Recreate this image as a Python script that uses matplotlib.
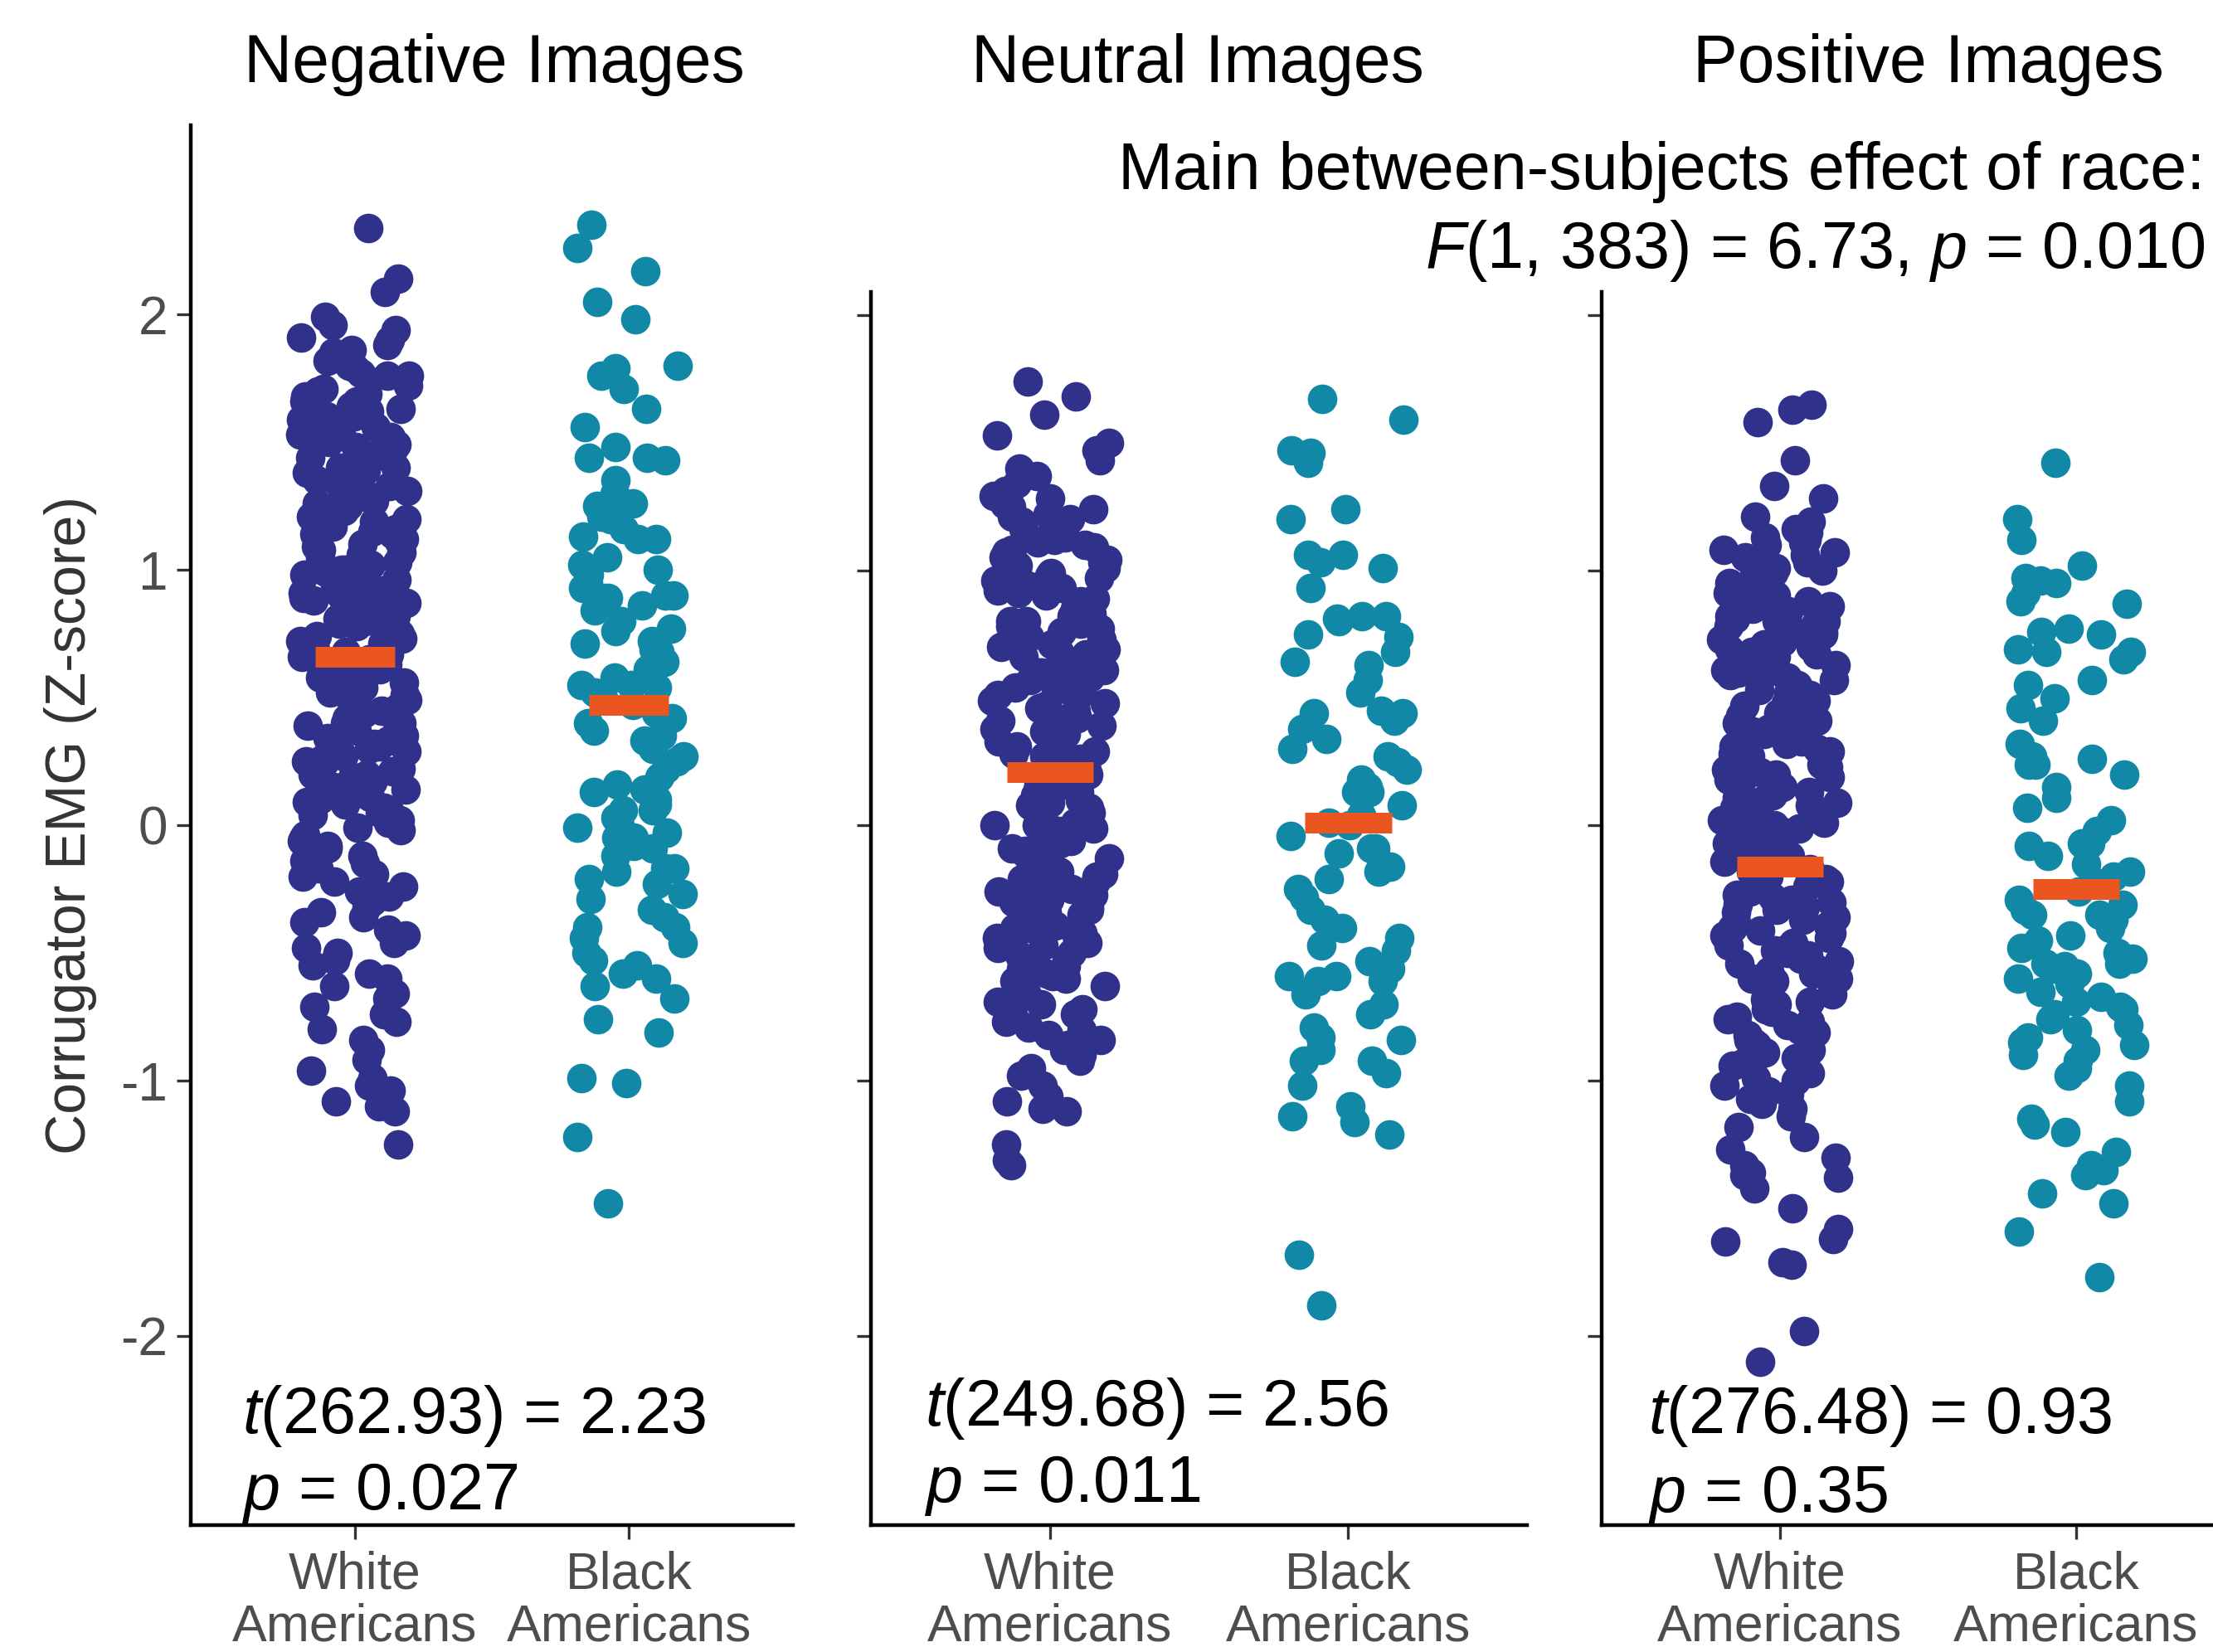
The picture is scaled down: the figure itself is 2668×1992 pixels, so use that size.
import numpy as np
import matplotlib.pyplot as plt

plt.rcParams['font.family'] = ['Liberation Sans', 'DejaVu Sans']
plt.rcParams['mathtext.fontset'] = 'custom'
plt.rcParams['mathtext.rm'] = 'Liberation Sans'
plt.rcParams['mathtext.it'] = 'Liberation Sans:italic'
plt.rcParams['axes.unicode_minus'] = False

# --- data ---
groups = ['White\nAmericans', 'Black\nAmericans']
panel_titles = ['Negative Images', 'Neutral Images', 'Positive Images']

neg_white = [
    2.34, 2.14, 2.09, 1.99, 1.96, 1.94, 1.91, 1.90, 1.88, 1.86, 1.85, 1.83,
    1.82, 1.80, 1.79, 1.77, 1.76, 1.76, 1.74, 1.72, 1.71, 1.70,
    1.69, 1.68, 1.66, 1.66, 1.64, 1.63, 1.62, 1.61, 1.60, 1.60,
    1.59, 1.57, 1.56, 1.56, 1.54, 1.53, 1.52, 1.51, 1.50,
    1.49, 1.48, 1.47, 1.45, 1.45, 1.44, 1.42, 1.41, 1.40, 1.40,
    1.39, 1.38, 1.36, 1.35, 1.35, 1.33, 1.32, 1.31, 1.30,
    1.29, 1.28, 1.27, 1.26, 1.25, 1.24, 1.23, 1.21, 1.20, 1.20,
    1.19, 1.17, 1.16, 1.15, 1.14, 1.14, 1.12, 1.11, 1.10,
    1.09, 1.08, 1.07, 1.06, 1.05, 1.03, 1.02, 1.01, 1.00, 1.00,
    0.99, 0.98, 0.96, 0.95, 0.94, 0.93, 0.92, 0.91, 0.90,
    0.89, 0.88, 0.87, 0.86, 0.85, 0.84, 0.82, 0.81, 0.80, 0.80,
    0.79, 0.78, 0.77, 0.75, 0.74, 0.73, 0.72, 0.71, 0.70,
    0.69, 0.68, 0.67, 0.66, 0.65, 0.63, 0.62, 0.61, 0.60, 0.60,
    0.59, 0.58, 0.57, 0.56, 0.54, 0.53, 0.52, 0.51, 0.50,
    0.49, 0.48, 0.47, 0.46, 0.45, 0.44, 0.42, 0.41, 0.40, 0.40,
    0.39, 0.38, 0.37, 0.35, 0.34, 0.33, 0.32, 0.31, 0.30,
    0.29, 0.28, 0.27, 0.26, 0.25, 0.24, 0.22, 0.21, 0.20, 0.20,
    0.19, 0.18, 0.17, 0.15, 0.14, 0.13, 0.12, 0.11, 0.10,
    0.09, 0.08, 0.07, 0.06, 0.05, 0.04, 0.02, 0.01, 0.00,
    -0.01, -0.02, -0.04, -0.05, -0.06, -0.08, -0.09, -0.10,
    -0.12, -0.14, -0.15, -0.17, -0.19, -0.20, -0.22, -0.24, -0.26, -0.28,
    -0.30, -0.32, -0.34, -0.36, -0.38, -0.41, -0.43, -0.46, -0.48, -0.50,
    -0.53, -0.55, -0.58, -0.60, -0.63, -0.66, -0.68, -0.71, -0.74, -0.77,
    -0.80, -0.84, -0.88, -0.92, -0.96, -0.99, -1.02, -1.04, -1.06, -1.08,
    -1.10, -1.12, -1.25]

neg_black = [
    2.35, 2.26, 2.17, 2.05, 1.98, 1.80, 1.79, 1.76, 1.71, 1.63, 1.56, 1.48,
    1.44, 1.44, 1.43, 1.35, 1.30, 1.26, 1.25, 1.21, 1.20, 1.16, 1.13, 1.12,
    1.12, 1.05, 1.02, 1.00, 0.99, 0.98, 0.95, 0.93, 0.90, 0.89, 0.89, 0.90,
    0.86, 0.84, 0.80, 0.77, 0.76, 0.72, 0.71, 0.69, 0.68, 0.64, 0.61, 0.58,
    0.55, 0.55, 0.54, 0.52, 0.50, 0.47, 0.44, 0.42, 0.40, 0.37, 0.35, 0.33,
    0.30, 0.27, 0.25, 0.22, 0.19, 0.16, 0.14, 0.13, 0.10, 0.08, 0.06, 0.06,
    0.03, 0.00, -0.01, -0.03, -0.05, -0.05, -0.08, -0.09, -0.12, -0.17, -0.17,
    -0.18, -0.21, -0.23, -0.27, -0.29, -0.33, -0.36, -0.40, -0.40, -0.44,
    -0.46, -0.50, -0.53, -0.55, -0.58, -0.60, -0.63, -0.68, -0.76, -0.81,
    -0.99, -1.01, -1.22, -1.48]

neu_white = [
    1.74, 1.68, 1.61, 1.53, 1.50, 1.47, 1.43, 1.40, 1.37, 1.34, 1.31,
    1.29, 1.28, 1.26, 1.25, 1.24, 1.22, 1.21, 1.20,
    1.19, 1.18, 1.16, 1.15, 1.13, 1.12, 1.11, 1.10,
    1.09, 1.08, 1.07, 1.05, 1.04, 1.03, 1.02, 1.01, 1.00,
    0.99, 0.98, 0.97, 0.96, 0.94, 0.93, 0.92, 0.91, 0.90,
    0.89, 0.88, 0.87, 0.86, 0.85, 0.83, 0.82, 0.81, 0.80, 0.80,
    0.79, 0.78, 0.77, 0.76, 0.74, 0.73, 0.72, 0.71, 0.70,
    0.69, 0.68, 0.67, 0.66, 0.65, 0.64, 0.62, 0.61, 0.60, 0.60,
    0.59, 0.58, 0.57, 0.55, 0.54, 0.53, 0.52, 0.51, 0.50,
    0.49, 0.48, 0.47, 0.46, 0.45, 0.43, 0.42, 0.41, 0.40, 0.40,
    0.39, 0.38, 0.37, 0.36, 0.34, 0.33, 0.32, 0.31, 0.30,
    0.29, 0.28, 0.27, 0.26, 0.25, 0.24, 0.22, 0.21, 0.20, 0.20,
    0.19, 0.18, 0.17, 0.15, 0.14, 0.13, 0.12, 0.11, 0.10,
    0.09, 0.08, 0.07, 0.06, 0.05, 0.04, 0.02, 0.01, 0.00, 0.00,
    -0.01, -0.02, -0.03, -0.05, -0.06, -0.07, -0.08, -0.09, -0.10,
    -0.11, -0.12, -0.13, -0.14, -0.15, -0.17, -0.18, -0.19, -0.20, -0.20,
    -0.21, -0.22, -0.23, -0.25, -0.26, -0.27, -0.28, -0.29, -0.30,
    -0.31, -0.32, -0.33, -0.34, -0.35, -0.37, -0.38, -0.39, -0.40, -0.40,
    -0.41, -0.42, -0.44, -0.45, -0.46, -0.47, -0.48, -0.50,
    -0.51, -0.52, -0.54, -0.55, -0.56, -0.58, -0.59, -0.60,
    -0.61, -0.63, -0.64, -0.66, -0.67, -0.69, -0.70,
    -0.72, -0.74, -0.75, -0.77, -0.79, -0.80,
    -0.82, -0.84, -0.86, -0.88, -0.90,
    -0.92, -0.95, -0.98, -1.02, -1.06, -1.08, -1.11, -1.12, -1.25, -1.31, -1.33]

neu_black = [
    1.67, 1.59, 1.47, 1.46, 1.42, 1.24, 1.20, 1.06, 1.06, 1.03, 1.01, 0.93,
    0.82, 0.81, 0.80, 0.82, 0.75, 0.74, 0.68, 0.63, 0.64, 0.57, 0.52, 0.45,
    0.44, 0.44, 0.41, 0.38, 0.34, 0.30, 0.27, 0.25, 0.22, 0.18, 0.15, 0.13,
    0.13, 0.08, 0.04, 0.01, 0.00, -0.04, -0.09, -0.09, -0.11, -0.16, -0.18,
    -0.21, -0.25, -0.28, -0.33, -0.37, -0.40, -0.44, -0.47, -0.49, -0.53,
    -0.56, -0.59, -0.59, -0.61, -0.61, -0.66, -0.70, -0.74, -0.79, -0.83,
    -0.84, -0.88, -0.92, -0.92, -0.97, -1.02, -1.10, -1.14, -1.16, -1.21,
    -1.68, -1.88]

pos_white = [
    1.65, 1.63, 1.58, 1.43, 1.33, 1.28, 1.21, 1.19,
    1.16, 1.15, 1.13, 1.12, 1.11, 1.10, 1.08, 1.07, 1.06, 1.05, 1.03, 1.02, 1.01, 1.00,
    0.99, 0.98, 0.97, 0.95, 0.94, 0.93, 0.92, 0.91, 0.90,
    0.89, 0.88, 0.86, 0.85, 0.84, 0.83, 0.82, 0.81, 0.80, 0.80,
    0.79, 0.78, 0.77, 0.76, 0.75, 0.73, 0.72, 0.71, 0.70,
    0.69, 0.68, 0.67, 0.66, 0.64, 0.63, 0.62, 0.61, 0.60, 0.60,
    0.59, 0.58, 0.57, 0.56, 0.55, 0.53, 0.52, 0.51, 0.50,
    0.49, 0.48, 0.47, 0.46, 0.44, 0.43, 0.42, 0.41, 0.40, 0.40,
    0.39, 0.38, 0.37, 0.36, 0.35, 0.33, 0.32, 0.31, 0.30,
    0.29, 0.28, 0.27, 0.26, 0.24, 0.23, 0.22, 0.21, 0.20, 0.20,
    0.19, 0.18, 0.17, 0.16, 0.15, 0.13, 0.12, 0.11, 0.10,
    0.09, 0.08, 0.07, 0.06, 0.04, 0.03, 0.02, 0.01, 0.00, 0.00,
    -0.01, -0.02, -0.03, -0.04, -0.06, -0.07, -0.08, -0.09, -0.10,
    -0.11, -0.12, -0.13, -0.14, -0.16, -0.17, -0.18, -0.19, -0.20, -0.20,
    -0.21, -0.22, -0.23, -0.24, -0.26, -0.27, -0.28, -0.29, -0.30,
    -0.31, -0.32, -0.33, -0.34, -0.36, -0.37, -0.38, -0.39, -0.40, -0.40,
    -0.41, -0.42, -0.43, -0.44, -0.46, -0.47, -0.48, -0.49, -0.50,
    -0.51, -0.52, -0.53, -0.54, -0.56, -0.57, -0.58, -0.59, -0.60, -0.60,
    -0.61, -0.62, -0.63, -0.64, -0.66, -0.67, -0.68, -0.69, -0.70,
    -0.71, -0.72, -0.73, -0.75, -0.76, -0.77, -0.78, -0.80,
    -0.81, -0.82, -0.84, -0.85, -0.86, -0.88, -0.89, -0.90,
    -0.91, -0.93, -0.94, -0.96, -0.97, -0.99, -1.00,
    -1.02, -1.04, -1.05, -1.07, -1.09, -1.11, -1.14,
    -1.18, -1.22, -1.27, -1.30, -1.33, -1.36, -1.37, -1.38, -1.42, -1.50,
    -1.58, -1.62, -1.63, -1.71, -1.72, -1.98, -2.10]

pos_black = [
    1.42, 1.20, 1.12, 1.02, 0.97, 0.96, 0.95, 0.91, 0.88, 0.87, 0.77, 0.76,
    0.75, 0.69, 0.68, 0.68, 0.65, 0.57, 0.55, 0.50, 0.46, 0.41, 0.32, 0.27,
    0.26, 0.24, 0.24, 0.20, 0.15, 0.11, 0.07, 0.02, -0.02, -0.07, -0.07,
    -0.08, -0.12, -0.15, -0.18, -0.20, -0.22, -0.26, -0.29, -0.31, -0.33,
    -0.35, -0.35, -0.37, -0.40, -0.43, -0.45, -0.48, -0.50, -0.52, -0.54,
    -0.54, -0.55, -0.56, -0.58, -0.60, -0.62, -0.65, -0.67, -0.69, -0.71,
    -0.72, -0.74, -0.76, -0.78, -0.80, -0.83, -0.85, -0.86, -0.88, -0.90,
    -0.92, -0.95, -0.98, -1.02, -1.08, -1.15, -1.17, -1.20, -1.28, -1.33,
    -1.35, -1.37, -1.44, -1.48, -1.59, -1.77]

neg_means = [0.66, 0.47]
neu_means = [0.21, 0.01]
pos_means = [-0.16, -0.25]

t_stats = [r'$t$(262.93) = 2.23', r'$t$(249.68) = 2.56', r'$t$(276.48) = 0.93']
p_stats = [r'$p$ = 0.027', r'$p$ = 0.011', r'$p$ = 0.35']

navy = '#2F318B'
teal = '#1189A6'
orange = '#EA5520'

fig = plt.figure(figsize=(13.34, 9.96), dpi=200)

rects = [[0.0861, 0.0769, 0.2723, 0.8471],
         [0.3935, 0.0769, 0.2966, 0.7463],
         [0.7239, 0.0769, 0.2946, 0.7463]]
tops = [2.74, 2.09, 2.09]
stat_x = [0.59, 0.58, 0.557]
t_y = [-2.38, -2.35, -2.38]
p_y = [-2.68, -2.65, -2.69]
title_x = [0.2232, 0.5411, 0.8715]

data = [(neg_white, neg_black, neg_means),
        (neu_white, neu_black, neu_means),
        (pos_white, pos_black, pos_means)]

rng = np.random.default_rng(7)

for i, (w, b, m) in enumerate(data):
    ax = fig.add_axes(rects[i])
    for j, (vals, col) in enumerate([(w, navy), (b, teal)]):
        jit = rng.uniform(-0.2, 0.2, len(vals))
        ax.scatter(j + 1 + jit, vals, s=165, color=col, linewidths=0, zorder=2)
        ax.hlines(m[j], j + 1 - 0.145, j + 1 + 0.145, color=orange, lw=9, zorder=3)
    ax.set_xlim(0.4, 2.6)
    ax.set_ylim(-2.74, tops[i])
    ax.set_xticks([1, 2])
    ax.set_xticklabels(groups, fontsize=22.5, color='#4D4D4D', linespacing=1.1)
    ax.set_yticks([-2, -1, 0, 1, 2])
    if i == 0:
        ax.set_yticklabels(['-2', '-1', '0', '1', '2'], fontsize=23, color='#4D4D4D')
    else:
        ax.set_yticklabels([])
    ax.tick_params(axis='both', length=6, width=1.2, color='#333333')
    ax.tick_params(axis='y', pad=4)
    ax.tick_params(axis='x', pad=5)
    for s in ['top', 'right']:
        ax.spines[s].set_visible(False)
    for s in ['left', 'bottom']:
        ax.spines[s].set_linewidth(1.6)
        ax.spines[s].set_color('black')
    ax.text(stat_x[i], t_y[i], t_stats[i], fontsize=28.5, va='baseline', ha='left')
    ax.text(stat_x[i], p_y[i], p_stats[i], fontsize=28.5, va='baseline', ha='left')
    fig.text(title_x[i], 0.9505, panel_titles[i], fontsize=29, ha='center', va='baseline')

fig.text(0.0319, 0.5004, 'Corrugator EMG (Z-score)', rotation=90, fontsize=24.5,
         color='#333333', ha='center', va='center')
fig.text(0.9962, 0.8856, 'Main between-subjects effect of race:', fontsize=28.5,
         ha='right', va='baseline')
fig.text(0.9962, 0.8377, r'$F$(1, 383) = 6.73, $p$ = 0.010', fontsize=28.5,
         ha='right', va='baseline')

fig.savefig('out.png', dpi=200)
